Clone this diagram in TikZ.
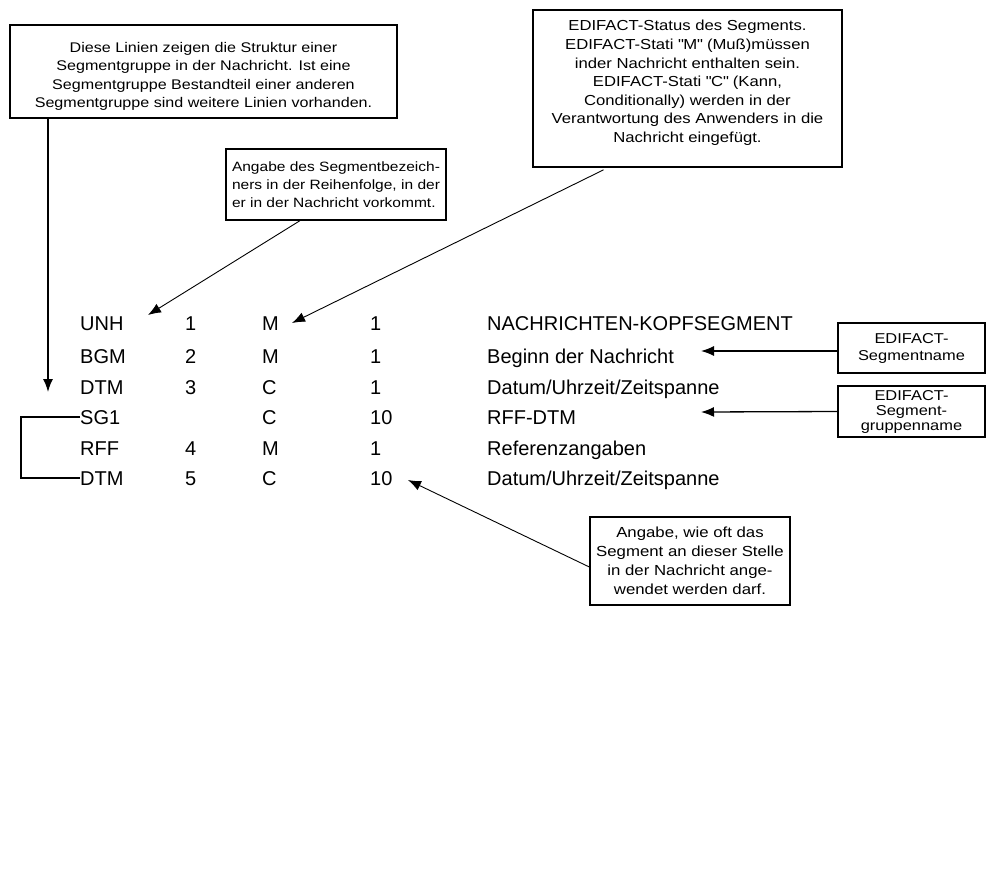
\documentclass[tikz,border=0pt]{standalone}
\usepackage{fontspec}
\setmainfont{Liberation Sans}
\newfontfamily\notefont[FakeStretch=1.15]{Liberation Sans}
\usetikzlibrary{arrows.meta}

\begin{document}
\begin{tikzpicture}[x=1pt, y=-1pt,
	notebox/.style={ draw, line width=1.3pt, inner sep=0pt, align=center },
	pointer/.style={ -{Latex[length=13pt, width=10pt]}, line width=0.9pt },
	cell/.style={ anchor=base west, inner sep=0pt, font=\fontsize{20}{24}\selectfont }
]
	\useasboundingbox (0,0) rectangle (986,884);

	\def\colcode{80}
	\def\colnum{185}
	\def\colst{262}
	\def\colcnt{370}
	\def\coldesc{487}
	\def\capmid{7}

	\foreach \i/\y/\code/\num/\st/\cnt/\desc in {
		1/323/UNH/1/M/1/NACHRICHTEN-KOPFSEGMENT,
		2/356/BGM/2/M/1/Beginn der Nachricht,
		3/387/DTM/3/C/1/{Datum/Uhrzeit/Zeitspanne},
		4/417/SG1//C/10/RFF-DTM,
		5/448/RFF/4/M/1/Referenzangaben,
		6/478/DTM/5/C/10/{Datum/Uhrzeit/Zeitspanne}} {
		\node[cell] (code\i) at (\colcode, \y+\capmid) {\code};
		\node[cell] (num\i) at (\colnum, \y+\capmid) {\num};
		\node[cell] (st\i) at (\colst, \y+\capmid) {\st};
		\node[cell] (cnt\i) at (\colcnt, \y+\capmid) {\cnt};
		\node[cell] (desc\i) at (\coldesc, \y+\capmid) {\desc};
	}

	\node[notebox, minimum width=387pt, minimum height=93pt, font=\notefont\fontsize{14}{18.5}\selectfont] (linien) at (203.5, 71.5) {\rule{0pt}{20pt}Diese Linien zeigen die Struktur einer\\Segmentgruppe in der Nachricht. Ist eine\\Segmentgruppe Bestandteil einer anderen\\Segmentgruppe sind weitere Linien vorhanden.};
	\node[notebox, minimum width=309pt, minimum height=157pt, font=\notefont\fontsize{14.5}{18.6}\selectfont] (status) at (687.5, 88.5) {EDIFACT-Status des Segments.\\EDIFACT-Stati \textquotedbl M\textquotedbl{} (Muß)müssen\\inder Nachricht enthalten sein.\\EDIFACT-Stati \textquotedbl C\textquotedbl{} (Kann,\\Conditionally) werden in der\\Verantwortung des Anwenders in die\\Nachricht eingefügt.\rule[-14pt]{0pt}{1pt}};
	\node[notebox, align=left, minimum width=220pt, minimum height=71pt, font=\notefont\fontsize{13.5}{18}\selectfont] (bezeichner) at (336, 184.5) {Angabe des Segmentbezeich-\\ners in der Reihenfolge, in der\\er in der Nachricht vorkommt.};
	\node[notebox, minimum width=147pt, minimum height=50pt, font=\notefont\fontsize{14.3}{17}\selectfont] (segname) at (911.5, 348) {EDIFACT-\\Segmentname};
	\node[notebox, minimum width=147pt, minimum height=51pt, font=\notefont\fontsize{14.3}{15}\selectfont] (grpname) at (911.5, 411.5) {EDIFACT-\\Segment-\\gruppenname};
	\node[notebox, minimum width=200pt, minimum height=88pt, font=\notefont\fontsize{14.6}{19}\selectfont] (anzahl) at (690, 561) {Angabe, wie oft das\\Segment an dieser Stelle\\in der Nachricht ange-\\wendet werden darf.};

	\coordinate (tiplinien) at (48, 392);
	\coordinate (tipcode) at (148, 315);
	\coordinate (tipst) at (292, 323);
	\coordinate (tipname) at (701, 351);
	\coordinate (tipgrp) at (701, 412);
	\coordinate (tipcnt) at (408, 480);
	\coordinate (bracket) at (21, 0);

	\draw[ pointer, line width=1.5pt ] ([xshift=-155.5pt]linien.south) -- (tiplinien);
	\draw[ pointer ] ([xshift=-36pt]bezeichner.south) -- (tipcode);
	\draw[ pointer, shorten <=5pt ] ([xshift=-79.5pt]status.south) -- (tipst);
	\draw[ pointer, line width=1.3pt ] ([yshift=-3pt]segname.west) -- (tipname);
	\draw[ pointer, line width=1.3pt ] (grpname.west) -- (tipgrp);
	\draw[ pointer ] ([yshift=-6pt]anzahl.west) -- (tipcnt);

	\draw[ line width=1.3pt ] (code4.west) -- (code4.west -| bracket) |- (code6.west);

\end{tikzpicture}
\end{document}
